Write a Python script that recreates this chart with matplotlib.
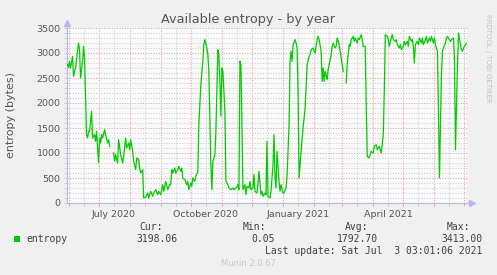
#!/usr/bin/env python3
"""Munin 'Available entropy - by year' graph, redrawn in matplotlib."""
import numpy as np
import matplotlib; matplotlib.use("Agg")
import matplotlib.pyplot as plt
import matplotlib.dates as mdates
from matplotlib.patches import Rectangle
from matplotlib.ticker import MultipleLocator, FuncFormatter, NullFormatter

# ---- data (day 0 = 2020-05-31) ----
START = np.datetime64("2020-05-31")
DAYS = [0, 1, 2, 3, 5, 6, 8, 11, 12, 13, 15, 16, 17, 19, 20, 21, 22, 24, 25, 27,
        28, 29, 31, 32, 33, 34, 35, 37, 38, 40, 41, 42, 43, 46, 47, 48, 50, 51, 53, 55,
        56, 58, 59, 61, 62, 63, 65, 66, 68, 69, 71, 72, 73, 75, 76, 78, 80, 81, 83, 85,
        86, 88, 90, 91, 93, 95, 96, 98, 100, 102, 103, 104, 105, 107, 108, 110, 111, 113, 114, 115,
        117, 119, 120, 121, 123, 124, 125, 127, 128, 130, 131, 133, 135, 136, 137, 139, 140, 141, 143, 144,
        145, 147, 148, 150, 151, 152, 153, 154, 155, 157, 158, 160, 161, 163, 165, 166, 168, 170, 171, 172,
        173, 174, 175, 177, 178, 179, 181, 182, 183, 185, 186, 187, 189, 190, 191, 193, 194, 195, 197, 198,
        199, 200, 202, 203, 205, 206, 207, 208, 209, 211, 212, 213, 215, 216, 218, 219, 221, 222, 223, 224,
        225, 227, 228, 229, 230, 231, 233, 235, 237, 238, 239, 241, 242, 243, 245, 246, 247, 249, 250, 251,
        253, 254, 255, 256, 257, 259, 260, 261, 263, 264, 265, 267, 268, 269, 271, 272, 273, 275, 276, 278,
        279, 281, 282, 283, 285, 286, 287, 289, 290, 291, 293, 294, 295, 297, 298, 299, 301, 302, 303, 305,
        306, 308, 309, 311, 312, 313, 315, 316, 317, 319, 320, 321, 323, 324, 325, 327, 328, 329, 331, 332,
        333, 335, 336, 337, 339, 340, 341, 343, 344, 345, 346, 347, 349, 350, 351, 353, 354, 355, 357, 358,
        359, 361, 362, 363, 365, 366, 367, 369, 370, 371, 373, 374, 375, 377, 378, 379, 381, 382, 383, 385,
        386, 387, 389, 390, 391, 393, 394, 395, 397, 398]
ENTROPY = [2767, 2713, 2833, 2700, 2933, 2533, 2700, 3200, 3067, 2500, 2833, 3133, 2900, 1367, 1300, 1433, 1433, 1833, 1300, 1367,
           1233, 1433, 800, 1300, 1200, 1367, 1300, 1467, 1367, 1200, 1267, 1133, np.nan, 1000, 833, 967, 800, 1267, 967, 800,
           933, 1300, 1100, 1200, 1067, 1267, 1033, 833, 667, 900, 867, 700, 600, 667, 100, 113, 200, 100, 233, 133,
           200, 267, 167, 233, 167, 367, 233, 433, 267, 367, 367, 667, 600, 700, 600, 667, 733, 633, 700, 500,
           467, 367, 433, 267, 400, 333, 500, 433, 533, 633, 1567, 2367, 2833, 3167, 3267, 3100, 2967, 2633, 767, 267,
           833, 967, 1433, 3067, 2967, 2433, 1733, 2700, 2633, 1833, 433, 367, 300, 267, 300, 267, 300, 367, 267, 2833,
           2767, 1567, 267, 367, 167, 333, 300, 433, 267, 300, 567, 233, 200, 367, 633, 167, 233, 133, 200, 167,
           1233, 133, 100, 233, 767, 1367, 500, 300, 1033, 433, 233, 367, 200, 200, 300, 533, 1567, 2833, 3033, 2833,
           3167, 3267, 3200, 3100, 2233, 500, 1033, 1500, 1900, 2300, 2767, 2933, 2967, 3067, 3100, 3033, 3000, 3267, 3333, 3267,
           3033, 2433, 2700, 2433, 2633, 2467, 2667, 2767, 2967, 3133, 3200, 3100, 3133, 3300, 3167, 3033, 2900, 2633, np.nan, 2400,
           2767, 3167, 3133, 3267, 3333, 3233, 3300, 3200, 3300, 3267, 3367, 3267, 3133, 3133, 1900, 933, 900, 967, 1033, 1000,
           1133, 1167, 1067, 1133, 1067, 1000, 1367, 2233, 3367, 3333, 3267, 3133, 3300, 3367, 3267, 3233, 3267, 3167, 3100, 3167,
           3067, 3133, 3233, 3167, 3233, 3133, 3333, 3233, 3267, 3133, 2800, 3167, 3233, 3167, 3300, 3200, 3300, 3167, 3267, 3333,
           3200, 3300, 3233, 3333, 3200, 3300, 3167, 3033, 1900, 500, 2567, 3033, 3100, 3200, 3300, 3333, 3267, 3233, 3267, 3300,
           2900, 1067, 2767, 3400, 3267, 3067, 3033, 3100, 3167, 3198]
STATS = {"Cur:": "3198.06", "Min:": "0.05", "Avg:": "1792.70", "Max:": "3413.00"}
LAST_UPDATE = "Last update: Sat Jul  3 03:01:06 2021"

W, H = 497, 275
BG = "#F0F0F0"
GREEN = "#00CC00"
AXC = "#B8B8F0"


def fx(x):
    return x / W


def fy(y):
    return 1 - y / H


dates = START + np.array(DAYS).astype("timedelta64[D]")

fig = plt.figure(figsize=(W / 100, H / 100), dpi=100, facecolor=BG)
ax = fig.add_axes([fx(67), fy(203), 400 / W, 175 / H])
ax.set_facecolor("#FAFAFA")
ax.plot(dates, ENTROPY, color=GREEN, lw=0.9, zorder=3)

ax.set_ylim(0, 3500)
ax.set_xlim(START - np.timedelta64(12, "h"), START + np.timedelta64(398 * 24 + 12, "h"))

ax.yaxis.set_major_locator(MultipleLocator(500))
ax.yaxis.set_minor_locator(MultipleLocator(100))
ax.xaxis.set_major_locator(mdates.MonthLocator(bymonthday=1))
ax.xaxis.set_minor_locator(mdates.MonthLocator(bymonthday=16))
ax.xaxis.set_major_formatter(NullFormatter())
ax.xaxis.set_minor_formatter(FuncFormatter(
    lambda v, p: mdates.num2date(v).strftime("%B %Y") if mdates.num2date(v).month in (1, 4, 7, 10) else ""))

ax.set_axisbelow(True)
ax.grid(which="major", color="#E8A0A0", ls=(0, (1, 1.5)), lw=0.75)
ax.grid(which="minor", color="#CFCFCF", ls=(0, (1, 1.5)), lw=0.75)
ax.tick_params(which="both", length=2, width=0.7, direction="out", labelsize=6.8, labelcolor="#555555")
ax.tick_params(axis="x", which="major", color="#E8A0A0")
ax.tick_params(axis="x", which="minor", color="#CFCFCF", pad=3)
ax.tick_params(axis="y", which="both", color="#CFCFCF", pad=2.5)

for s in ("top", "right"):
    ax.spines[s].set_visible(False)
for s in ("left", "bottom"):
    ax.spines[s].set_color(AXC)
    ax.spines[s].set_linewidth(0.8)
ax.plot([1.0, 1.012], [0, 0], color=AXC, lw=0.8, transform=ax.transAxes, clip_on=False)
ax.plot([1.012], [0], marker=">", ms=4, color=AXC, transform=ax.transAxes, clip_on=False)
ax.plot([0, 0], [1.0, 1.03], color=AXC, lw=0.8, transform=ax.transAxes, clip_on=False)
ax.plot([0], [1.03], marker="^", ms=4, color=AXC, transform=ax.transAxes, clip_on=False)

ax.set_ylabel("entropy (bytes)", fontsize=8, color="#555555", va="center")
ax.yaxis.set_label_coords((11 - 67) / 400, 0.5)

fig.text(fx(248), fy(19), "Available entropy - by year", fontsize=9.3, color="#555555",
         ha="center", va="center")
fig.text(fx(488), fy(14), "RRDTOOL / TOBI OETIKER", fontsize=5, color="#C0C0C0",
         rotation=270, ha="center", va="top")

# legend block
mono = dict(family="DejaVu Sans Mono", fontsize=7, color="#404040", va="center")
fig.patches.append(Rectangle((fx(14), fy(242)), 6 / W, 6 / H, transform=fig.transFigure,
                             facecolor=GREEN, edgecolor="none"))
fig.text(fx(26), fy(239.5), "entropy", ha="left", **mono)
for (lab, val), hx, vx in zip(STATS.items(), [163, 266, 368, 470], [177, 275, 378, 482]):
    fig.text(fx(hx), fy(227.5), lab, ha="right", **mono)
    fig.text(fx(vx), fy(239.5), val, ha="right", **mono)
fig.text(fx(482), fy(251), LAST_UPDATE, ha="right", **mono)
fig.text(fx(248), fy(264), "Munin 2.0.67", fontsize=6, color="#C8C8C8", ha="center", va="center")

fig.savefig("out.png", dpi=100, facecolor=BG)
